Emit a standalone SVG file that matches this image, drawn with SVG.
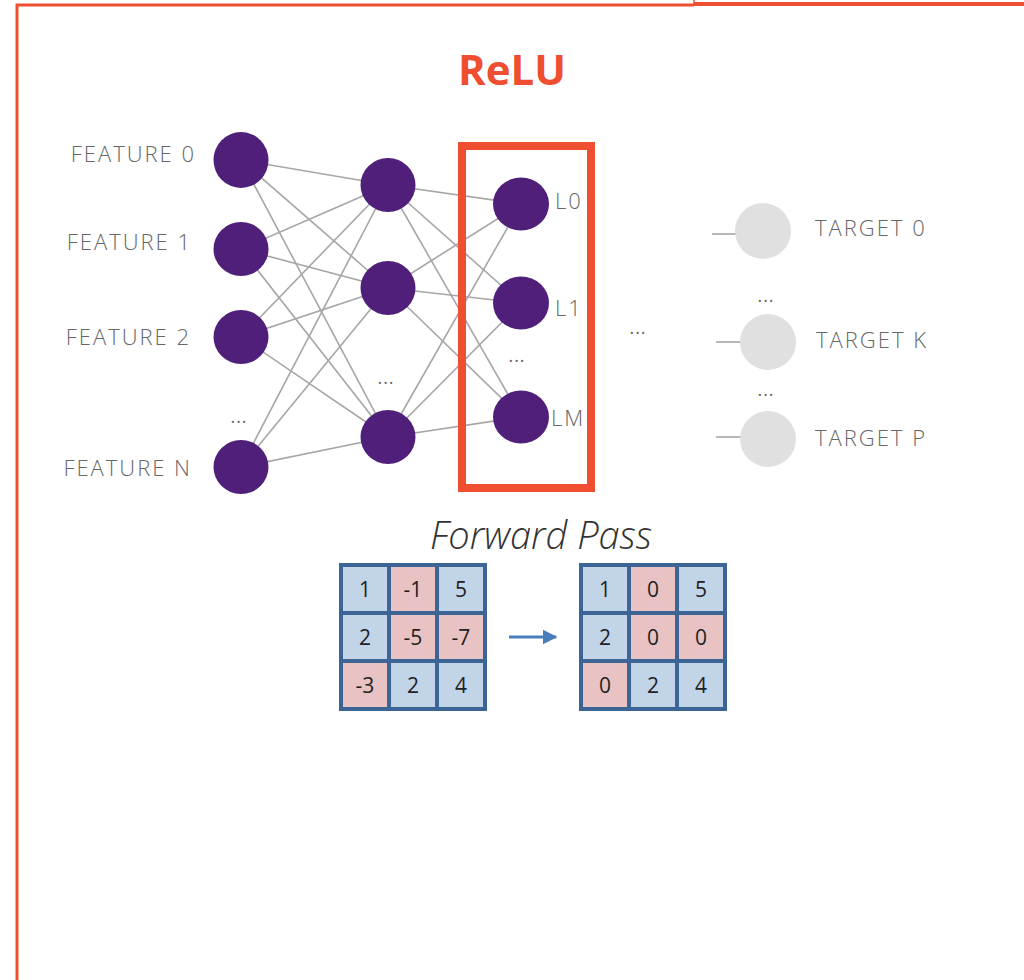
<svg xmlns="http://www.w3.org/2000/svg" width="1024" height="980" viewBox="0 0 1024 980">
<style>
.frame{fill:none;stroke:#f04e30}
.edge{stroke:#a6a6a6;stroke-width:1.6}
.nn{fill:#4f1f7a}
.tg{fill:#e0e0e0}
.lbl{font-family:"Open Sans","Liberation Sans",sans-serif;font-weight:300;font-size:22px;letter-spacing:2px;fill:#666}
.dots{font-family:"Open Sans","Liberation Sans",sans-serif;font-size:18px;letter-spacing:1px;fill:#666;text-anchor:middle}
.cell{stroke:#3c6596;stroke-width:4}
.pos{fill:#c2d4e8}
.neg{fill:#e9c3c3}
.num{font-family:"Open Sans","Liberation Sans",sans-serif;font-size:21px;fill:#222;text-anchor:middle}
</style>
<defs>
<marker id="arr" viewBox="0 0 10 10" refX="9" refY="5" markerWidth="5" markerHeight="5" orient="auto"><path d="M0,0 L10,5 L0,10 z" fill="#4a7ebb"/></marker>
</defs>
<g id="frame">
<path class="frame" d="M17,980 V5 H694" stroke-width="3"/>
<path class="frame" d="M694,0 V4" stroke-width="1.5"/>
<path class="frame" d="M694,4 H1024" stroke-width="4"/>
</g>
<text x="512" y="85" text-anchor="middle" font-family="Open Sans, Liberation Sans, sans-serif" font-weight="700" font-size="42" fill="#f04e30">ReLU</text>
<g id="connectors">
<line class="edge" x1="241" y1="160" x2="388" y2="185"/>
<line class="edge" x1="241" y1="160" x2="388" y2="288"/>
<line class="edge" x1="241" y1="160" x2="388" y2="437"/>
<line class="edge" x1="241" y1="249" x2="388" y2="185"/>
<line class="edge" x1="241" y1="249" x2="388" y2="288"/>
<line class="edge" x1="241" y1="249" x2="388" y2="437"/>
<line class="edge" x1="241" y1="337" x2="388" y2="185"/>
<line class="edge" x1="241" y1="337" x2="388" y2="288"/>
<line class="edge" x1="241" y1="337" x2="388" y2="437"/>
<line class="edge" x1="241" y1="467" x2="388" y2="185"/>
<line class="edge" x1="241" y1="467" x2="388" y2="288"/>
<line class="edge" x1="241" y1="467" x2="388" y2="437"/>
<line class="edge" x1="388" y1="185" x2="521" y2="204"/>
<line class="edge" x1="388" y1="185" x2="521" y2="303"/>
<line class="edge" x1="388" y1="185" x2="521" y2="417"/>
<line class="edge" x1="388" y1="288" x2="521" y2="204"/>
<line class="edge" x1="388" y1="288" x2="521" y2="303"/>
<line class="edge" x1="388" y1="288" x2="521" y2="417"/>
<line class="edge" x1="388" y1="437" x2="521" y2="204"/>
<line class="edge" x1="388" y1="437" x2="521" y2="303"/>
<line class="edge" x1="388" y1="437" x2="521" y2="417"/>
<line class="edge" x1="712" y1="234" x2="740" y2="234"/>
<line class="edge" x1="716" y1="342" x2="745" y2="342"/>
<line class="edge" x1="716" y1="437" x2="745" y2="437"/>
</g>
<g id="input-layer">
<ellipse class="nn" cx="241" cy="160" rx="27.5" ry="28"/>
<ellipse class="nn" cx="241" cy="249" rx="27.5" ry="27"/>
<ellipse class="nn" cx="241" cy="337" rx="27.5" ry="27"/>
<ellipse class="nn" cx="241" cy="467" rx="27.5" ry="27"/>
<text class="lbl" x="196" y="162" text-anchor="end">FEATURE 0</text>
<text class="lbl" x="192" y="250" text-anchor="end">FEATURE 1</text>
<text class="lbl" x="191" y="345" text-anchor="end">FEATURE 2</text>
<text class="lbl" x="192" y="476" text-anchor="end">FEATURE N</text>
<text class="dots" x="239" y="423">...</text>
</g>
<g id="hidden-layer">
<ellipse class="nn" cx="388" cy="185" rx="27.5" ry="27"/>
<ellipse class="nn" cx="388" cy="288" rx="27.5" ry="27"/>
<ellipse class="nn" cx="388" cy="437" rx="27.5" ry="27"/>
<text class="dots" x="386" y="384">...</text>
</g>
<g id="relu-layer">
<rect x="462" y="146" width="129" height="342" fill="none" stroke="#f04e30" stroke-width="8"/>
<ellipse class="nn" cx="521" cy="204" rx="28" ry="26.5"/>
<ellipse class="nn" cx="521" cy="303" rx="28" ry="26.5"/>
<ellipse class="nn" cx="521" cy="417" rx="28" ry="26.5"/>
<text class="lbl" x="555" y="209">L0</text>
<text class="lbl" x="555" y="316">L1</text>
<text class="lbl" x="551" y="426">LM</text>
<text class="dots" x="517" y="362">...</text>
</g>
<text class="dots" x="638" y="334">...</text>
<g id="output-layer">
<circle class="tg" cx="763" cy="231" r="28"/>
<circle class="tg" cx="768" cy="342" r="28"/>
<circle class="tg" cx="768" cy="439" r="28"/>
<text class="lbl" x="815" y="236">TARGET 0</text>
<text class="lbl" x="816" y="348">TARGET K</text>
<text class="lbl" x="815" y="446">TARGET P</text>
<text class="dots" x="766" y="302">...</text>
<text class="dots" x="766" y="396">...</text>
</g>
<text x="541" y="549" text-anchor="middle" font-family="Open Sans, Liberation Sans, sans-serif" font-style="italic" font-weight="300" font-size="38" fill="#333">Forward Pass</text>
<g id="input-matrix">
<rect class="cell pos" x="341" y="565" width="48" height="48"/>
<rect class="cell neg" x="389" y="565" width="48" height="48"/>
<rect class="cell pos" x="437" y="565" width="48" height="48"/>
<rect class="cell pos" x="341" y="613" width="48" height="48"/>
<rect class="cell neg" x="389" y="613" width="48" height="48"/>
<rect class="cell neg" x="437" y="613" width="48" height="48"/>
<rect class="cell neg" x="341" y="661" width="48" height="48"/>
<rect class="cell pos" x="389" y="661" width="48" height="48"/>
<rect class="cell pos" x="437" y="661" width="48" height="48"/>
<text class="num" x="365" y="597">1</text>
<text class="num" x="413" y="597">-1</text>
<text class="num" x="461" y="597">5</text>
<text class="num" x="365" y="645">2</text>
<text class="num" x="413" y="645">-5</text>
<text class="num" x="461" y="645">-7</text>
<text class="num" x="365" y="693">-3</text>
<text class="num" x="413" y="693">2</text>
<text class="num" x="461" y="693">4</text>
</g>
<g id="arrow">
<line x1="509" y1="637" x2="556" y2="637" stroke="#4a7ebb" stroke-width="3" marker-end="url(#arr)"/>
</g>
<g id="output-matrix">
<rect class="cell pos" x="581" y="565" width="48" height="48"/>
<rect class="cell neg" x="629" y="565" width="48" height="48"/>
<rect class="cell pos" x="677" y="565" width="48" height="48"/>
<rect class="cell pos" x="581" y="613" width="48" height="48"/>
<rect class="cell neg" x="629" y="613" width="48" height="48"/>
<rect class="cell neg" x="677" y="613" width="48" height="48"/>
<rect class="cell neg" x="581" y="661" width="48" height="48"/>
<rect class="cell pos" x="629" y="661" width="48" height="48"/>
<rect class="cell pos" x="677" y="661" width="48" height="48"/>
<text class="num" x="605" y="597">1</text>
<text class="num" x="653" y="597">0</text>
<text class="num" x="701" y="597">5</text>
<text class="num" x="605" y="645">2</text>
<text class="num" x="653" y="645">0</text>
<text class="num" x="701" y="645">0</text>
<text class="num" x="605" y="693">0</text>
<text class="num" x="653" y="693">2</text>
<text class="num" x="701" y="693">4</text>
</g>
</svg>
